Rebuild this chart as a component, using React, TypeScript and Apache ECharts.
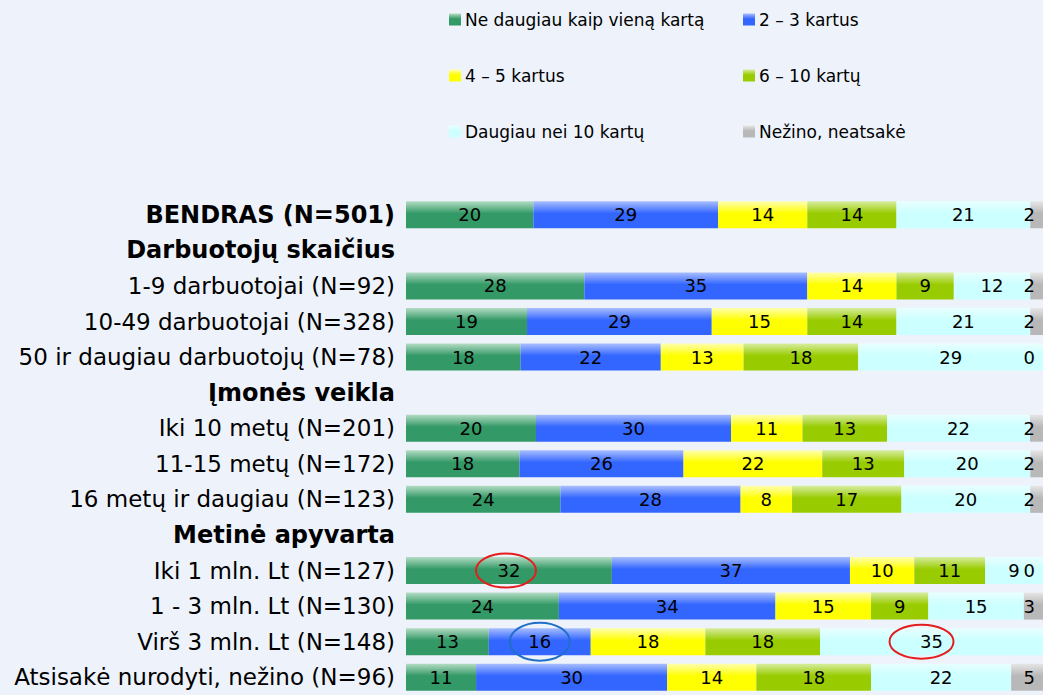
import React, { useEffect, useRef } from "react";
import * as echarts from "echarts";

const categories = [
  "BENDRAS (N=501)",
  "Darbuotojų skaičius",
  "1-9 darbuotojai (N=92)",
  "10-49 darbuotojai (N=328)",
  "50 ir daugiau darbuotojų (N=78)",
  "Įmonės veikla",
  "Iki 10 metų (N=201)",
  "11-15 metų (N=172)",
  "16 metų ir daugiau (N=123)",
  "Metinė apyvarta",
  "Iki 1 mln. Lt (N=127)",
  "1 - 3 mln. Lt (N=130)",
  "Virš 3 mln. Lt (N=148)",
  "Atsisakė nurodyti, nežino (N=96)",
];
const boldRows = ["BENDRAS (N=501)", "Darbuotojų skaičius", "Įmonės veikla", "Metinė apyvarta"];

const seriesNames = [
  "Ne daugiau kaip vieną kartą",
  "2 – 3 kartus",
  "4 – 5 kartus",
  "6 – 10 kartų",
  "Daugiau nei 10 kartų",
  "Nežino, neatsakė",
];

const onceOrLess = [20, null, 28, 19, 18, null, 20, 18, 24, null, 32, 24, 13, 11];
const twoThree = [29, null, 35, 29, 22, null, 30, 26, 28, null, 37, 34, 16, 30];
const fourFive = [14, null, 14, 15, 13, null, 11, 22, 8, null, 10, 15, 18, 14];
const sixTen = [14, null, 9, 14, 18, null, 13, 13, 17, null, 11, 9, 18, 18];
const moreThanTen = [21, null, 12, 21, 29, null, 22, 20, 20, null, 9, 15, 35, 22];
const unknown = [2, null, 2, 2, 0, null, 2, 2, 2, null, 0, 3, null, 5];

const rawSeries = [onceOrLess, twoThree, fourFive, sixTen, moreThanTen, unknown];

const baseColors = ["#339966", "#3366FF", "#FFFF00", "#99CC00", "#CCFFFF", "#B8B8B8"];
const topColors = ["#B4DCC4", "#A9BEFF", "#FFFFB0", "#D8EDA0", "#E8FFFF", "#E6E6E6"];

const FONT = "DejaVu Sans";

export default function App() {
  const ref = useRef<HTMLDivElement>(null);
  useEffect(() => {
    if (!ref.current) return;
    const chart = echarts.init(ref.current, null, { renderer: "svg" });

    const rowSums = categories.map((_, i) =>
      rawSeries.reduce((s, arr) => s + (arr[i] == null ? 0 : (arr[i] as number)), 0)
    );

    const series = rawSeries.map((arr, si) => ({
      name: seriesNames[si],
      type: "bar",
      stack: "total",
      barWidth: 27,
      data: arr.map((v, i) => (v == null ? null : (v / rowSums[i]) * 100)),
      itemStyle: {
        color: new echarts.graphic.LinearGradient(0, 0, 0, 1, [
          { offset: 0, color: topColors[si] },
          { offset: 0.45, color: baseColors[si] },
          { offset: 1, color: baseColors[si] },
        ]),
      },
      label: {
        show: true,
        position: si === 5 ? "insideRight" : "inside",
        distance: 8,
        color: "#000",
        fontFamily: FONT,
        fontSize: 18,
        formatter: (p: any) => {
          const v = arr[p.dataIndex];
          return v == null ? "" : String(v);
        },
      },
      emphasis: { disabled: true },
    }));

    const legendPos = [
      [449, 11],
      [743, 11],
      [449, 67],
      [743, 67],
      [449, 123],
      [743, 123],
    ];

    const option: any = {
      animation: false,
      backgroundColor: "#EEF3FB",
      textStyle: { fontFamily: FONT },
      legend: seriesNames.map((n, i) => ({
        data: [n],
        left: legendPos[i][0],
        top: legendPos[i][1],
        itemWidth: 12,
        itemHeight: 12,
        icon: "rect",
        padding: 0,
        textStyle: { fontFamily: FONT, fontSize: 17, color: "#000", padding: [0, 0, 0, -1] },
      })),
      grid: { left: 406, top: 197, width: 640, height: 502, containLabel: false },
      xAxis: {
        type: "value",
        min: 0,
        max: 100,
        show: false,
        splitLine: { show: false },
      },
      yAxis: {
        type: "category",
        inverse: true,
        data: categories,
        axisLine: { show: false },
        axisTick: { show: false },
        axisLabel: {
          margin: 11,
          color: "#000",
          fontFamily: FONT,
          fontSize: 23,
          formatter: (v: string) => (boldRows.includes(v) ? `{b|${v}}` : v),
          rich: {
            b: { fontWeight: "bold", fontFamily: FONT, fontSize: 24, color: "#000" },
          },
        },
      },
      series,
    };
    chart.setOption(option);

    const centerOf = (si: number, row: number) => {
      const sums = rowSums[row];
      let before = 0;
      for (let k = 0; k < si; k++) before += (rawSeries[k][row] as number) || 0;
      const v = rawSeries[si][row] as number;
      const xVal = ((before + v / 2) / sums) * 100;
      return chart.convertToPixel({ xAxisIndex: 0, yAxisIndex: 0 }, [xVal, categories[row]]) as number[];
    };
    const marks = [
      { si: 0, row: 10, color: "#E41E1E", rx: 30, ry: 17, dx: -3 },
      { si: 1, row: 12, color: "#1F6FC8", rx: 30, ry: 19, dx: 0 },
      { si: 4, row: 12, color: "#E41E1E", rx: 32, ry: 17, dx: -10 },
    ];
    chart.setOption({
      graphic: marks.map((m) => {
        const [cx, cy] = centerOf(m.si, m.row);
        return {
          type: "ellipse",
          shape: { cx: cx + m.dx, cy, rx: m.rx, ry: m.ry },
          style: { fill: "none", stroke: m.color, lineWidth: 2 },
          z: 100,
        };
      }),
    });

    return () => chart.dispose();
  }, []);
  return (
    <div
      ref={ref}
      style={{ position: "fixed", left: 0, top: 0, width: 1043, height: 695 }}
    />
  );
}
